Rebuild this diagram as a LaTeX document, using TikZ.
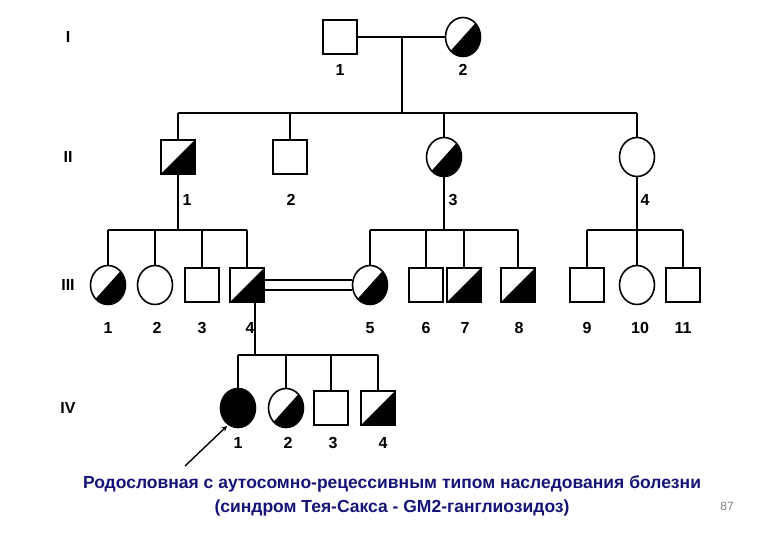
\documentclass[tikz,border=0pt]{standalone}
\usepackage{fontspec}
\setmainfont{Liberation Sans}
\usetikzlibrary{shapes.geometric}
\begin{document}
\begin{tikzpicture}[x=1pt,y=-1pt,line width=1.6pt,
  sq/.style={draw,rectangle,minimum size=34pt,inner sep=0pt},
  ci/.style={draw,ellipse,minimum width=35pt,minimum height=39pt,inner sep=0pt},
  half/.style={path picture={\fill (path picture bounding box.south west) -- (path picture bounding box.north east) -- (path picture bounding box.south east) -- cycle;}},
  full/.style={fill=black},
  lab/.style={font=\bfseries\fontsize{16}{18}\selectfont},
  gen/.style={font=\bfseries\fontsize{16}{18}\selectfont}]
\useasboundingbox (0,0) rectangle (780,540);
% generation labels
\node[gen] (gI) at (68,37) {I};
\node[gen] (gII) at (68,157) {II};
\node[gen] (gIII) at (68,285) {III};
\node[gen] (gIV) at (68,408) {IV};
% Gen I
\node[sq] (i1) at (340,37) {};
\node[ci,half] (i2) at (463,37) {};
\node[lab] at (340,70) {1};
\node[lab] at (463,70) {2};
\draw (i1) -- (i2);
\coordinate (m1) at (402,37);
\coordinate (s1) at (402,113);
\draw (m1) -- (s1);
% Gen II
\node[sq,half] (ii1) at (178,157) {};
\node[sq] (ii2) at (290,157) {};
\node[ci,half] (ii3) at (444,157) {};
\node[ci] (ii4) at (637,157) {};
\draw (178,113) -- (637,113);
\foreach \n/\x in {ii1/178,ii2/290,ii3/444,ii4/637} \draw (\x,113) -- (\n);
\node[lab] at (187,200) {1};
\node[lab] at (291,200) {2};
\node[lab] at (453,200) {3};
\node[lab] at (645,200) {4};
% Gen III
\node[ci,half] (iii1) at (108,285) {};
\node[ci] (iii2) at (155,285) {};
\node[sq] (iii3) at (202,285) {};
\node[sq,half] (iii4) at (247,285) {};
\node[ci,half] (iii5) at (370,285) {};
\node[sq] (iii6) at (426,285) {};
\node[sq,half] (iii7) at (464,285) {};
\node[sq,half] (iii8) at (518,285) {};
\node[sq] (iii9) at (587,285) {};
\node[ci] (iii10) at (637,285) {};
\node[sq] (iii11) at (683,285) {};
\draw (ii1) -- (178,230); \draw (108,230) -- (247,230);
\foreach \n/\x in {iii1/108,iii2/155,iii3/202,iii4/247} \draw (\x,230) -- (\n);
\draw (ii3) -- (444,230); \draw (370,230) -- (518,230);
\foreach \n/\x in {iii5/370,iii6/426,iii7/464,iii8/518} \draw (\x,230) -- (\n);
\draw (ii4) -- (iii10); \draw (587,230) -- (683,230);
\foreach \n/\x in {iii9/587,iii11/683} \draw (\x,230) -- (\n);
\foreach \t/\x in {1/108,2/157,3/202,4/250,5/370,6/426,7/465,8/519,9/587,10/640,11/683}
  \node[lab] at (\x,328) {\t};
% consanguineous marriage
\draw ([yshift=-5pt]iii4.east) -- ([yshift=-5pt]iii5.west);
\draw ([yshift=5pt]iii4.east) -- ([yshift=5pt]iii5.west);
% Gen IV
\node[ci,full] (iv1) at (238,408) {};
\node[ci,half] (iv2) at (286,408) {};
\node[sq] (iv3) at (331,408) {};
\node[sq,half] (iv4) at (378,408) {};
\draw (255,290) -- (255,355); \draw (238,355) -- (378,355);
\foreach \n/\x in {iv1/238,iv2/286,iv3/331,iv4/378} \draw (\x,355) -- (\n);
\foreach \t/\x in {1/238,2/288,3/333,4/383} \node[lab] at (\x,443) {\t};
\coordinate (ar) at (185,466);
\draw[line width=1.4pt,-stealth] (ar) -- (227,426);
% caption
\definecolor{cap}{RGB}{20,20,120}
\node[text=cap,font=\bfseries\fontsize{17.5}{24}\selectfont,align=center] (cap1) at (392,496)
 {Родословная с аутосомно-рецессивным типом наследования болезни\\(синдром Тея-Сакса - GM2-ганглиозидоз)};
\node[text=gray,font=\fontsize{12}{14}\selectfont] (p) at (727,506) {87};
\end{tikzpicture}
\end{document}
